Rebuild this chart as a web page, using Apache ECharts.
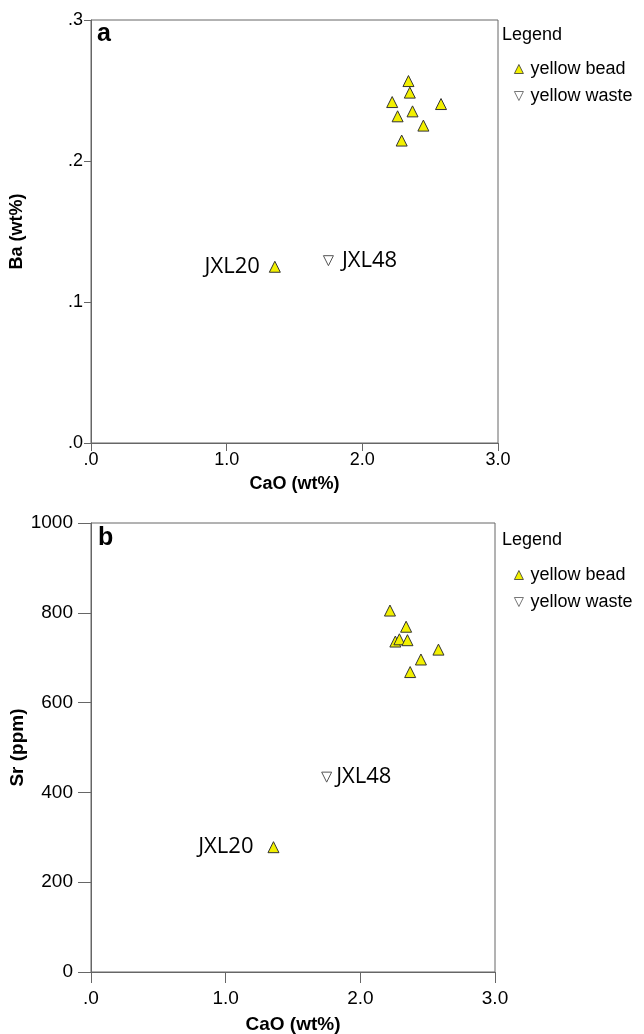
<!DOCTYPE html>
<html>
<head>
<meta charset="utf-8">
<script src="https://cdn.jsdelivr.net/npm/echarts@6/dist/echarts.min.js"></script>
<style>html,body{margin:0;padding:0;background:#fff;}#c{width:644px;height:1034px;}</style>
</head>
<body>
<div id="c"></div>
<script>
// ---- data ----
const beadCaO = [2.22, 2.34, 2.26, 2.29, 2.35, 2.58, 2.45, 2.37];
const beadBa  = [0.2418, 0.2567, 0.2317, 0.2145, 0.2485, 0.2404, 0.2251, 0.2352];
const beadSr  = [805, 769, 736, 741, 739, 718, 696, 668];
const jxl20 = { name: 'JXL20', cao: 1.355, ba: 0.125, sr: 278 };
const jxl48 = { name: 'JXL48', cao: 1.75, ba: 0.1293, sr: 434 };
const xTicks = ['.0', '1.0', '2.0', '3.0'];
const baTicks = ['.0', '.1', '.2', '.3'];
const srTicks = ['0', '200', '400', '600', '800', '1000'];
const seriesNames = ['yellow bead', 'yellow waste'];

const FONT = '"Liberation Sans", Arial, sans-serif';
const AX = '#666';
const downTri = 'path://M0,0 L10,0 L5,10 Z';

function beadData(ys, lblY, lblDist) {
  const d = beadCaO.map((x, i) => [x, ys[i]]);
  d.push({ value: [jxl20.cao, lblY], label: { show: true, formatter: jxl20.name, position: 'left', distance: lblDist } });
  return d;
}
function wasteData(y, lblDist) {
  return [{ value: [jxl48.cao, y], label: { show: true, formatter: jxl48.name, position: 'right', distance: lblDist } }];
}
const labelStyle = { fontFamily: '"Open Sans", sans-serif', fontSize: 22, color: '#000' };

function xAxis(gi, tickLen, margin, gap, fs, tfs) {
  return {
    gridIndex: gi, type: 'value', min: 0, max: 3, interval: 1,
    name: 'CaO (wt%)', nameLocation: 'middle', nameGap: gap, nameMoveOverlap: false,
    nameTextStyle: { fontFamily: FONT, fontSize: tfs, fontWeight: 'bold', color: '#000', verticalAlign: 'top' },
    axisLine: { show: true, onZero: false, lineStyle: { color: AX, width: 1 } },
    axisTick: { show: true, length: tickLen, lineStyle: { color: AX } },
    axisLabel: { fontFamily: FONT, fontSize: fs, color: '#000', margin: margin, formatter: v => xTicks[Math.round(v)] },
    splitLine: { show: false }
  };
}

const legendBase = { orient: 'vertical', data: seriesNames, itemWidth: 9, itemHeight: 9, itemGap: 9, padding: 0,
  itemStyle: { borderWidth: 0.8 },
  textStyle: { fontFamily: FONT, fontSize: 18, color: '#000', lineHeight: 18, padding: [0, 0, 0, 2] }, selectedMode: false };

const option = {
  animation: false,
  backgroundColor: '#fff',
  grid: [
    { left: 91, top: 20, width: 407, height: 423, show: true, borderColor: AX, borderWidth: 1, backgroundColor: 'transparent', outerBoundsMode: 'none', containLabel: false },
    { left: 91, top: 523, width: 404, height: 449, show: true, borderColor: AX, borderWidth: 1, backgroundColor: 'transparent', outerBoundsMode: 'none', containLabel: false }
  ],
  xAxis: [xAxis(0, 8, 8, 32, 18, 18), xAxis(1, 11, 17, 43, 19, 19)],
  yAxis: [
    {
      gridIndex: 0, type: 'value', min: 0, max: 0.3, interval: 0.1,
      name: 'Ba (wt%)', nameLocation: 'middle', nameGap: 65, nameRotate: 90, nameMoveOverlap: false,
      nameTextStyle: { fontFamily: FONT, fontSize: 18, fontWeight: 'bold', color: '#000' },
      axisLine: { show: true, onZero: false, lineStyle: { color: AX } },
      axisTick: { show: true, length: 7, lineStyle: { color: AX } },
      axisLabel: { fontFamily: FONT, fontSize: 18, color: '#000', margin: 8, formatter: v => baTicks[Math.round(v * 10)] },
      splitLine: { show: false }
    },
    {
      gridIndex: 1, type: 'value', min: 0, max: 1000, interval: 200,
      name: 'Sr (ppm)', nameLocation: 'middle', nameGap: 64, nameRotate: 90, nameMoveOverlap: false,
      nameTextStyle: { fontFamily: FONT, fontSize: 19, fontWeight: 'bold', color: '#000' },
      axisLine: { show: true, onZero: false, lineStyle: { color: AX } },
      axisTick: { show: true, length: 13, lineStyle: { color: AX } },
      axisLabel: { fontFamily: FONT, fontSize: 19, color: '#000', margin: 18, formatter: v => srTicks[Math.round(v / 200)] },
      splitLine: { show: false }
    }
  ],
  legend: [
    Object.assign({ left: 514, top: 60 }, legendBase),
    Object.assign({ left: 514, top: 566 }, legendBase)
  ],
  graphic: [
    { type: 'text', left: 502, top: 26, style: { text: 'Legend', font: '18px ' + FONT, fill: '#000' } },
    { type: 'text', left: 502, top: 531, style: { text: 'Legend', font: '18px ' + FONT, fill: '#000' } },
    { type: 'text', left: 97, top: 22, style: { text: 'a', font: 'bold 25px ' + FONT, fill: '#000' } },
    { type: 'text', left: 98, top: 526, style: { text: 'b', font: 'bold 25px ' + FONT, fill: '#000' } }
  ],
  series: [
    { name: seriesNames[0], type: 'scatter', xAxisIndex: 0, yAxisIndex: 0, symbol: 'triangle', symbolSize: 11,
      itemStyle: { color: '#f2f000', borderColor: '#333', borderWidth: 1, opacity: 1 },
      label: labelStyle, data: beadData(beadBa, jxl20.ba, 9) },
    { name: seriesNames[1], type: 'scatter', xAxisIndex: 0, yAxisIndex: 0, symbol: downTri, symbolSize: 10,
      itemStyle: { color: '#fff', borderColor: '#555', borderWidth: 1, opacity: 1 },
      label: labelStyle, data: wasteData(jxl48.ba, 8) },
    { name: seriesNames[0], type: 'scatter', xAxisIndex: 1, yAxisIndex: 1, symbol: 'triangle', symbolSize: 11,
      itemStyle: { color: '#f2f000', borderColor: '#333', borderWidth: 1, opacity: 1 },
      label: labelStyle, data: beadData(beadSr, jxl20.sr, 14) },
    { name: seriesNames[1], type: 'scatter', xAxisIndex: 1, yAxisIndex: 1, symbol: downTri, symbolSize: 10,
      itemStyle: { color: '#fff', borderColor: '#555', borderWidth: 1, opacity: 1 },
      label: labelStyle, data: wasteData(jxl48.sr, 4) }
  ]
};
const chart = echarts.init(document.getElementById('c'), null, { renderer: 'canvas' });
chart.setOption(option);
</script>
</body>
</html>
